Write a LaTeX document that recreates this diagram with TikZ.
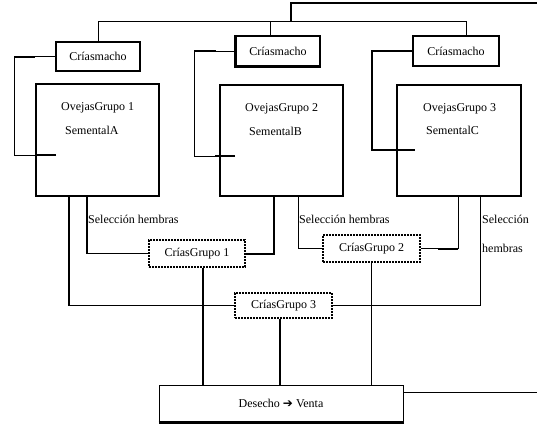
\documentclass[tikz,border=0pt]{standalone}
\usepackage{fontspec}
\setmainfont{Liberation Serif}
\newfontfamily\dejavu{DejaVu Sans}
\begin{document}
\begin{tikzpicture}[x=1pt,y=-1pt,
  txt/.style={font=\fontsize{12}{14}\selectfont, inner sep=0pt},
  box/.style={txt, draw, line width=1.4pt},
  thickbox/.style={box, line width=2.4pt},
  dotbox/.style={txt, draw, line width=2pt, densely dotted},
  conn/.style={line width=0.8pt},
  thickconn/.style={line width=2pt}]
\useasboundingbox (0,0) rectangle (537,423);
% boxes
\node[box, minimum width=84pt, minimum height=29pt] (cm1) at (98,56.5) {Críasmacho};
\node[box, minimum width=84pt, minimum height=30pt] (cm2) at (278,51) {Críasmacho};
\node[thickbox, minimum width=86pt, minimum height=30pt] (cm3) at (456,51) {Críasmacho};
\draw[line width=2.6pt] (cm2.north west) |- (cm2.south east);
\node[box, line width=1.6pt, minimum width=123pt, minimum height=112pt] (ov1) at (97.5,140) {};
\node[box, line width=1.6pt, minimum width=123pt, minimum height=111pt] (ov2) at (281.5,140.5) {};
\node[thickbox, minimum width=124pt, minimum height=111pt] (ov3) at (459,140.5) {};
\node[txt, anchor=west] (ov1a) at (61,108) {OvejasGrupo 1};
\node[txt, anchor=west] (ov1b) at (65,130) {SementalA};
\node[txt, anchor=west] (ov2a) at (245,109) {OvejasGrupo 2};
\node[txt, anchor=west] (ov2b) at (249,131) {SementalB};
\node[txt, anchor=west] (ov3a) at (423,109) {OvejasGrupo 3};
\node[txt, anchor=west] (ov3b) at (426,130) {SementalC};
\node[dotbox, minimum width=96pt, minimum height=27pt] (cg1) at (197,253.5) {CríasGrupo 1};
\node[dotbox, minimum width=97pt, minimum height=27pt] (cg2) at (371.5,248.5) {CríasGrupo 2};
\node[dotbox, minimum width=97pt, minimum height=25pt] (cg3) at (283.5,305.5) {CríasGrupo 3};
\node[box, line width=1pt, minimum width=244pt, minimum height=37pt] (des) at (281,403.5) {Desecho {\dejavu\char"2794} Venta};
\draw[line width=3pt] (des.south west) -- (des.south east);
% labels
\node[txt, anchor=west] (s1) at (88,219) {Selección hembras};
\node[txt, anchor=west] (s2) at (299,219) {Selección hembras};
\node[txt, anchor=west] (s3a) at (482,219) {Selección};
\node[txt, anchor=west] (s3b) at (482,248) {hembras};
% helper coordinates
\coordinate (t0) at (537,3);
\coordinate (t1) at (291,3);
\coordinate (hL) at (99,21);
\coordinate (hR) at (466,21);
\coordinate (x270) at (270,0);
\coordinate (k1) at (14,155);
\coordinate (e1) at (56,155);
\coordinate (k2) at (194,156);
\coordinate (e2) at (235,156);
\coordinate (k3) at (372,150);
\coordinate (e3) at (415,150);
\coordinate (x69) at (69,0);
\coordinate (x87) at (87,0);
\coordinate (x274) at (274,0);
\coordinate (x298) at (298,0);
\coordinate (x458) at (458,0);
\coordinate (x480) at (480,0);
% top connectors
\draw[thickconn] (t0) -- (t1) -- (t1 |- hL);
\draw[conn] (cm1.north) -- (cm1.north |- hL) -- (hR) -- (cm3.north -| hR);
\draw[conn] (cm2.north -| x270) -- (x270 |- hL);
% sire loops
\draw[conn] (cm1.west) -| (k1) -- (e1);
\draw[thickconn] (cm1.west -| k1) -- +(21,0);
\draw[thickconn] (e1) -- +(-21,0);
\draw[conn] (cm2.west) -| (k2) -- (e2);
\draw[thickconn] (cm2.west -| k2) -- +(22,0);
\draw[thickconn] (e2) -- +(-20,0);
\draw[thickconn] (cm3.west) -| (k3) -- (e3);
% selection lines
\draw[line width=1.4pt] (ov1.south -| x87) |- (cg1.west);
\draw[line width=1.4pt] (ov1.south -| x69) |- (cg3.west);
\draw[thickconn] (ov2.south -| x274) |- (cg1.east);
\draw[conn] (ov2.south -| x298) |- (cg2.west);
\draw[conn] (ov3.south -| x458) |- (cg2.east);
\draw[thickconn] (cg2.east -| x458) -- +(-20,0);
\draw[conn] (ov3.south -| x480) |- (cg3.east);
% to discard
\draw[line width=1.4pt] ([xshift=6pt]cg1.south) -- ([xshift=6pt]cg1.south |- des.north);
\draw[conn] (cg2.south) -- (cg2.south |- des.north);
\draw[thickconn] ([xshift=-3.5pt]cg3.south) -- ([xshift=-3.5pt]cg3.south |- des.north);
\draw[conn] ([yshift=11.5pt]des.east) -- +(134,0);
\end{tikzpicture}
\end{document}
